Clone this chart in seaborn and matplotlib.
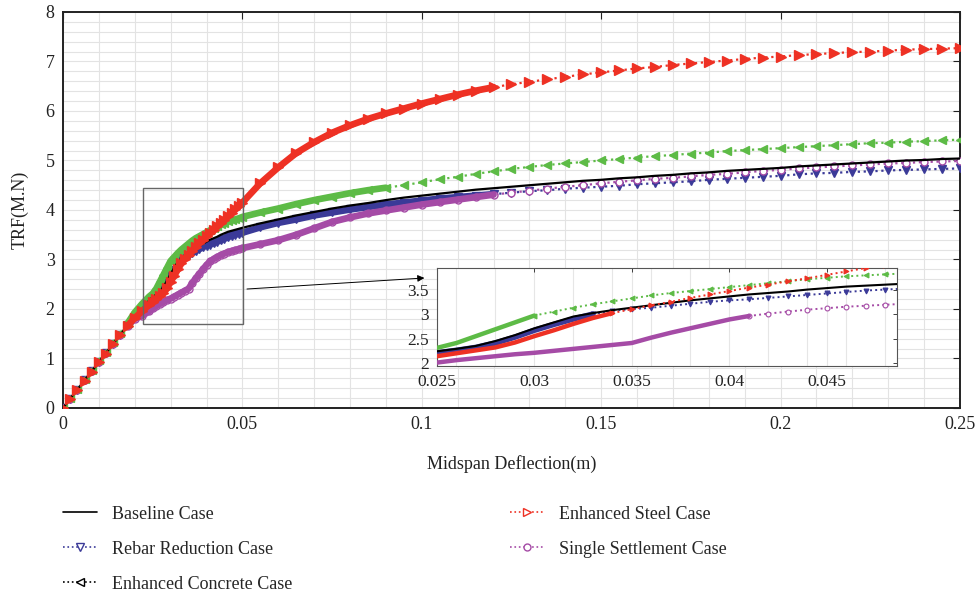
import numpy as np
import pandas as pd
import seaborn as sns
import matplotlib.pyplot as plt
from matplotlib.lines import Line2D
from matplotlib.patches import Rectangle
from matplotlib.ticker import MultipleLocator, FuncFormatter

# valeurs (flèche à mi-portée en m, TRF)
deflection = ([0, 0.002, 0.004, 0.006, 0.008, 0.010, 0.012, 0.014, 0.016, 0.018, 0.020, 0.022, 0.024]
              + [0.025, 0.026, 0.027, 0.028, 0.029, 0.030, 0.031, 0.032, 0.033, 0.034, 0.035, 0.036, 0.037,
                 0.038, 0.039, 0.040, 0.041, 0.042, 0.043, 0.044, 0.045, 0.046, 0.047, 0.048, 0.049, 0.050]
              + [0.055, 0.06, 0.065, 0.07, 0.075, 0.08, 0.085, 0.09, 0.095, 0.10, 0.105, 0.11, 0.115, 0.12,
                 0.125, 0.13, 0.135, 0.14, 0.145, 0.15, 0.155, 0.16, 0.165, 0.17, 0.175, 0.18, 0.185, 0.19,
                 0.195, 0.20, 0.205, 0.21, 0.215, 0.22, 0.225, 0.23, 0.235, 0.24, 0.245, 0.25])

baseline = ([0, 0.19, 0.37, 0.56, 0.74, 0.93, 1.11, 1.30, 1.48, 1.67, 1.84, 1.99, 2.17]
            + [2.24, 2.29, 2.35, 2.45, 2.57, 2.71, 2.83, 2.95, 3.02, 3.08, 3.13, 3.18, 3.23,
               3.28, 3.32, 3.36, 3.40, 3.43, 3.46, 3.50, 3.53, 3.56, 3.58, 3.60, 3.62, 3.64]
            + [3.73, 3.81, 3.89, 3.96, 4.03, 4.09, 4.14, 4.20, 4.25, 4.29, 4.33, 4.37, 4.41, 4.44,
               4.47, 4.50, 4.53, 4.56, 4.59, 4.61, 4.64, 4.66, 4.69, 4.71, 4.74, 4.76, 4.79, 4.81,
               4.83, 4.85, 4.88, 4.90, 4.92, 4.94, 4.96, 4.98, 5.00, 5.01, 5.03, 5.04])

rebar = ([0, 0.19, 0.37, 0.56, 0.74, 0.93, 1.11, 1.30, 1.48, 1.67, 1.84, 1.97, 2.15]
         + [2.21, 2.26, 2.32, 2.41, 2.53, 2.67, 2.79, 2.90, 3.00, 3.07, 3.10, 3.13, 3.17,
            3.21, 3.25, 3.28, 3.30, 3.33, 3.36, 3.39, 3.42, 3.45, 3.48, 3.50, 3.52, 3.54]
         + [3.65, 3.74, 3.81, 3.89, 3.95, 4.01, 4.06, 4.11, 4.15, 4.19, 4.23, 4.26, 4.29, 4.32,
            4.35, 4.38, 4.40, 4.43, 4.45, 4.47, 4.49, 4.52, 4.54, 4.56, 4.58, 4.61, 4.63, 4.65,
            4.67, 4.69, 4.72, 4.74, 4.75, 4.77, 4.78, 4.80, 4.81, 4.82, 4.83, 4.84])

concrete = ([0, 0.20, 0.39, 0.58, 0.77, 0.96, 1.14, 1.33, 1.52, 1.71, 1.93, 2.10, 2.25]
            + [2.31, 2.41, 2.55, 2.69, 2.83, 2.97, 3.05, 3.13, 3.20, 3.26, 3.32, 3.38, 3.43,
               3.47, 3.51, 3.55, 3.59, 3.63, 3.67, 3.71, 3.74, 3.77, 3.79, 3.81, 3.83, 3.86]
            + [3.95, 4.03, 4.12, 4.20, 4.27, 4.34, 4.40, 4.45, 4.50, 4.56, 4.62, 4.67, 4.73, 4.78,
               4.83, 4.87, 4.91, 4.94, 4.97, 5.00, 5.03, 5.06, 5.09, 5.11, 5.14, 5.16, 5.19, 5.21,
               5.23, 5.25, 5.27, 5.29, 5.31, 5.33, 5.35, 5.36, 5.38, 5.39, 5.41, 5.42])

steel = ([0, 0.18, 0.36, 0.55, 0.73, 0.92, 1.10, 1.29, 1.47, 1.66, 1.82, 1.95, 2.09]
         + [2.14, 2.20, 2.26, 2.32, 2.42, 2.55, 2.67, 2.80, 2.92, 3.02, 3.10, 3.18, 3.25,
            3.33, 3.40, 3.47, 3.54, 3.60, 3.67, 3.73, 3.80, 3.87, 3.94, 4.01, 4.08, 4.15]
         + [4.54, 4.86, 5.15, 5.37, 5.56, 5.71, 5.84, 5.95, 6.05, 6.15, 6.24, 6.33, 6.41, 6.48,
            6.54, 6.59, 6.64, 6.69, 6.74, 6.78, 6.82, 6.86, 6.89, 6.93, 6.96, 6.99, 7.02, 7.05,
            7.08, 7.10, 7.13, 7.15, 7.17, 7.19, 7.20, 7.22, 7.24, 7.25, 7.26, 7.27])

settlement = ([0, 0.19, 0.37, 0.56, 0.74, 0.93, 1.11, 1.30, 1.48, 1.66, 1.80, 1.86, 1.95]
              + [2.01, 2.06, 2.10, 2.14, 2.18, 2.21, 2.25, 2.29, 2.33, 2.37, 2.41, 2.52, 2.62,
                 2.71, 2.80, 2.89, 2.96, 3.01, 3.05, 3.09, 3.12, 3.15, 3.17, 3.19, 3.21, 3.23]
              + [3.31, 3.39, 3.50, 3.63, 3.76, 3.85, 3.93, 3.99, 4.05, 4.11, 4.16, 4.21, 4.26, 4.31,
                 4.35, 4.39, 4.43, 4.47, 4.50, 4.54, 4.57, 4.60, 4.63, 4.65, 4.68, 4.71, 4.73, 4.76,
                 4.79, 4.81, 4.84, 4.86, 4.88, 4.90, 4.92, 4.94, 4.95, 4.97, 4.98, 4.99])

case_names = ["Baseline Case", "Rebar Reduction Case", "Enhanced Concrete Case",
              "Enhanced Steel Case", "Single Settlement Case"]

rows = []
for name, vals in zip(case_names, [baseline, rebar, concrete, steel, settlement]):
    for d, f in zip(deflection, vals):
        rows.append({"case": name, "x": d, "y": f})
df = pd.DataFrame(rows)

RED, GREEN, BLUE, MAG = "#ee3124", "#5dbb46", "#3b3a98", "#a54ba6"

# nom, couleur, marqueur, face, taille, fin du trait plein (encart), fin de la bande (principal), ordre
styles = [
    ("Rebar Reduction Case", BLUE, "v", BLUE, 6, 0.033, 0.12, 3),
    ("Single Settlement Case", MAG, "o", "white", 5, 0.041, 0.12, 4),
    ("Enhanced Concrete Case", GREEN, "<", GREEN, 6, 0.030, 0.09, 5),
    ("Enhanced Steel Case", RED, ">", RED, 6.5, 0.034, 0.12, 7),
]

sns.set_style("white")
plt.rcParams["font.family"] = ["Liberation Serif", "DejaVu Serif"]

fmt = FuncFormatter(lambda v, p: f"{v:g}")

fig = plt.figure(figsize=(9.78, 5.97), dpi=100)
ax = fig.add_axes([0.0644, 0.3166, 0.9172, 0.6633])

for name, col, mk, mfc, ms, solid_end, band_end, z in styles:
    d = df[df.case == name]
    sns.lineplot(data=d, x="x", y="y", ax=ax, color=col, linestyle=":", linewidth=1.6,
                 marker=mk, markersize=ms, markerfacecolor=mfc, markeredgecolor=col,
                 markeredgewidth=1.0, estimator=None, sort=False, legend=False, zorder=z)
    band = d[(d.x >= 0.018) & (d.x <= band_end)]
    sns.lineplot(data=band, x="x", y="y", ax=ax, color=col, linewidth=4.8,
                 estimator=None, sort=False, legend=False, zorder=z)

base = df[df.case == "Baseline Case"]
sns.lineplot(data=base, x="x", y="y", ax=ax, color="black", linewidth=1.6,
             estimator=None, sort=False, legend=False, zorder=6)

ax.set_xlim(0, 0.25)
ax.set_ylim(0, 8)
ax.xaxis.set_major_locator(MultipleLocator(0.05))
ax.xaxis.set_minor_locator(MultipleLocator(0.01))
ax.yaxis.set_major_locator(MultipleLocator(1))
ax.yaxis.set_minor_locator(MultipleLocator(0.2))
ax.xaxis.set_major_formatter(fmt)
ax.grid(True, which="both", color="#e3e3e3", linewidth=0.8, zorder=0)
ax.set_axisbelow(True)
ax.tick_params(which="major", direction="in", length=5, width=0.8, top=True, right=True,
               labelsize=13, colors="#222222", pad=6)
ax.tick_params(which="minor", length=0)
for s in ax.spines.values():
    s.set_color("#222222")
    s.set_linewidth(1.4)
ax.set_xlabel("Midspan Deflection(m)", fontsize=13, labelpad=16, color="#222222")
ax.set_ylabel("TRF(M.N)", fontsize=13, labelpad=12, color="#222222")

# zone agrandie et flèche vers l'encart
ax.add_patch(Rectangle((0.0222, 1.70), 0.028, 2.75, fill=False, edgecolor="#666666",
                       linewidth=1.0, zorder=8))
ax.annotate("", xy=(0.1015, 2.63), xytext=(0.0505, 2.40),
            arrowprops=dict(arrowstyle="-|>", color="black", lw=0.7, mutation_scale=10),
            zorder=8)

# encart
axins = fig.add_axes([0.4468, 0.3869, 0.4704, 0.1642])
axins.set_facecolor("white")
for name, col, mk, mfc, ms, solid_end, band_end, z in styles:
    d = df[df.case == name]
    solid = d[d.x <= solid_end]
    rest = d[d.x >= solid_end]
    sns.lineplot(data=rest, x="x", y="y", ax=axins, color=col, linestyle=":", linewidth=1.4,
                 marker=mk, markersize=3.5, markerfacecolor=mfc, markeredgecolor=col,
                 markeredgewidth=0.8, estimator=None, sort=False, legend=False, zorder=z)
    sns.lineplot(data=solid, x="x", y="y", ax=axins, color=col,
                 linewidth=4.0 if col == BLUE else 3.2,
                 estimator=None, sort=False, legend=False, zorder=z)
sns.lineplot(data=base, x="x", y="y", ax=axins, color="black", linewidth=1.5,
             estimator=None, sort=False, legend=False, zorder=6)
axins.set_xlim(0.025, 0.0486)
axins.set_ylim(1.94, 3.94)
axins.set_xticks([0.025, 0.03, 0.035, 0.04, 0.045])
axins.set_yticks([2, 2.5, 3, 3.5])
axins.xaxis.set_major_formatter(fmt)
axins.yaxis.set_major_formatter(fmt)
axins.xaxis.set_minor_locator(MultipleLocator(0.002))
axins.grid(True, axis="x", which="both", color="#e6e6e6", linewidth=0.8)
axins.set_axisbelow(True)
axins.tick_params(which="major", direction="in", length=3, width=0.6, top=True, right=True,
                  labelsize=12.5, colors="#222222", pad=6)
axins.tick_params(which="minor", length=0)
axins.set_xlabel("")
axins.set_ylabel("")
for s in axins.spines.values():
    s.set_color("#555555")
    s.set_linewidth(0.8)

# légende en deux colonnes sous le graphique
h_base = Line2D([], [], color="black", linewidth=1.2)
h_rebar = Line2D([], [], color=BLUE, linestyle=":", linewidth=1.2, marker="v",
                 markersize=6, markerfacecolor="white", markeredgecolor=BLUE)
h_conc = Line2D([], [], color="black", linestyle=":", linewidth=1.2, marker="<",
                markersize=6, markerfacecolor="white", markeredgecolor="black")
h_steel = Line2D([], [], color=RED, linestyle=":", linewidth=1.2, marker=">",
                 markersize=6, markerfacecolor="white", markeredgecolor=RED)
h_sett = Line2D([], [], color=MAG, linestyle=":", linewidth=1.2, marker="o",
                markersize=5, markerfacecolor="white", markeredgecolor=MAG)

leg_kw = dict(loc="upper left", frameon=False, fontsize=13, handlelength=1.9,
              handletextpad=0.85, labelspacing=1.0, borderpad=0, borderaxespad=0)
fig.legend([h_base, h_rebar, h_conc], case_names[:3], bbox_to_anchor=(0.064, 0.153), **leg_kw)
fig.legend([h_steel, h_sett], case_names[3:], bbox_to_anchor=(0.521, 0.153), **leg_kw)

plt.savefig("out.png", dpi=100)
